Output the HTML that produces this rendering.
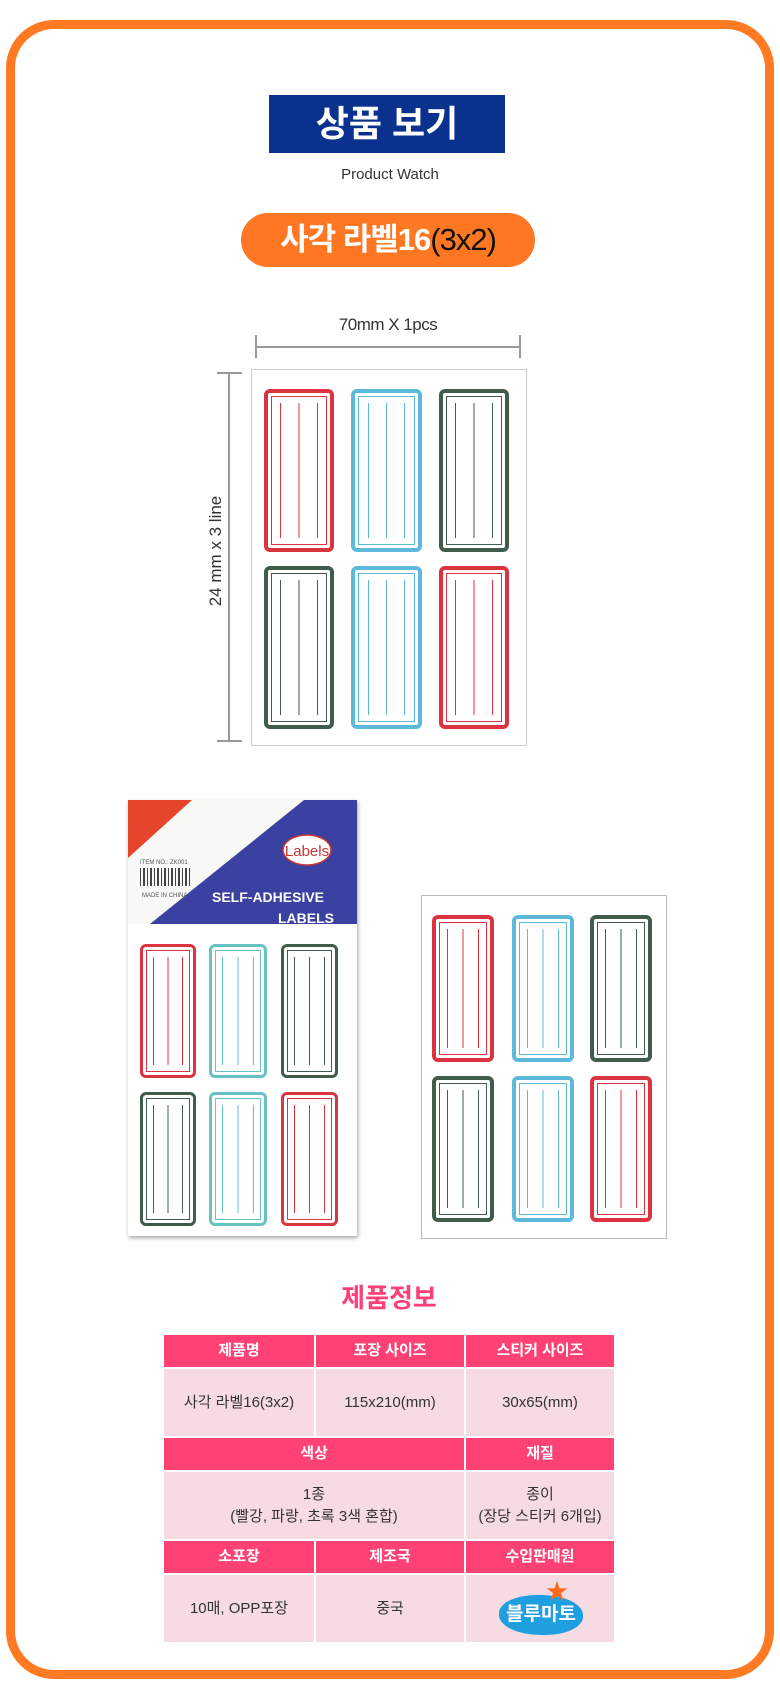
<!DOCTYPE html>
<html><head><meta charset="utf-8">
<style>
*{margin:0;padding:0;box-sizing:border-box}
body{width:780px;height:1704px;background:#fff;position:relative;overflow:hidden;font-family:"Liberation Sans","Noto Sans CJK KR",sans-serif}
.a{position:absolute}
.frame{left:6px;top:20px;width:768px;height:1659px;border:9px solid #ff7a23;border-radius:48px}
.st{position:absolute;border:4px solid var(--c);border-radius:6px;background:#fff}
.st::before{content:'';position:absolute;left:3px;right:3px;top:3px;bottom:3px;border:1px solid var(--c)}
.st::after{content:'';position:absolute;left:20%;right:20%;top:10px;bottom:10px;background:linear-gradient(90deg,var(--c) 0 1px,transparent 1px calc(50% - .5px),var(--c) calc(50% - .5px) calc(50% + .5px),transparent calc(50% + .5px) calc(100% - 1px),var(--c) calc(100% - 1px))}
.r{--c:#dc3341}.b{--c:#5cb9d9}.g{--c:#3f5d4a}.t{--c:#67c2c4}
.tbl{left:164px;top:1335px;width:450px;display:grid;grid-template-columns:150px 148px 148px;gap:2px;background:#fff}
.tbl div{display:flex;align-items:center;justify-content:center;text-align:center;font-size:15px;color:#333;line-height:1.45}
.tbl .h{background:#ff4173;color:#fff;font-weight:bold;height:32px;font-size:15px}
.tbl .d{background:#f7dbe3;height:67px}
</style></head><body>
<div class="a frame"></div>

<div class="a" style="left:269px;top:95px;width:236px;height:58px;background:#0b318f;color:#fff;font-size:36px;font-weight:bold;text-align:center;line-height:58px">상품 보기</div>
<div class="a" style="left:0;width:780px;top:166px;text-align:center;font-size:15px;color:#333">Product Watch</div>
<div class="a" style="left:241px;top:213px;width:294px;height:54px;background:#ff7722;border-radius:27px;text-align:center;line-height:54px;font-size:31px;color:#fff;font-weight:bold;letter-spacing:-1px">사각 라벨16<span style="color:#111;font-weight:normal">(3x2)</span></div>

<div class="a" style="left:0;width:776px;top:315px;text-align:center;font-size:17px;color:#333;letter-spacing:-0.5px">70mm X 1pcs</div>
<div class="a" style="left:255px;top:346px;width:266px;height:2px;background:#999"></div>
<div class="a" style="left:255px;top:335px;width:2px;height:23px;background:#999"></div>
<div class="a" style="left:519px;top:335px;width:2px;height:23px;background:#999"></div>
<div class="a" style="left:228px;top:372px;width:2px;height:370px;background:#999"></div>
<div class="a" style="left:217px;top:372px;width:25px;height:2px;background:#999"></div>
<div class="a" style="left:217px;top:740px;width:25px;height:2px;background:#999"></div>
<div class="a" style="width:150px;text-align:center;font-size:17px;color:#333;transform:rotate(-90deg);transform-origin:75px 11px;top:540px;left:142px">24 mm x 3 line</div>
<div class="a" style="left:251px;top:369px;width:276px;height:377px;border:1px solid #ccc"></div>
<div class="st r" style="left:264px;top:389px;width:70px;height:163px"></div>
<div class="st b" style="left:351px;top:389px;width:71px;height:163px"></div>
<div class="st g" style="left:439px;top:389px;width:70px;height:163px"></div>
<div class="st g" style="left:264px;top:566px;width:70px;height:163px"></div>
<div class="st b" style="left:351px;top:566px;width:71px;height:163px"></div>
<div class="st r" style="left:439px;top:566px;width:70px;height:163px"></div>

<div class="a" style="left:128px;top:800px;width:229px;height:436px;background:#fff;box-shadow:1px 2px 4px rgba(0,0,0,.35)">
<svg width="229" height="124" style="position:absolute;left:0;top:0">
<rect width="229" height="124" fill="#f8f8f6"/>
<polygon points="0,0 64,0 0,58" fill="#e5452b"/>
<polygon points="176,0 229,0 229,124 22,124" fill="#3a41a0"/>
<ellipse cx="179" cy="50" rx="24" ry="15" fill="#fff" stroke="#c33" stroke-width="1.5"/>
<text x="179" y="56" font-size="15" fill="#c33" text-anchor="middle" font-family="Liberation Sans">Labels</text>
<text x="12" y="64" font-size="6" fill="#555" font-family="Liberation Sans">ITEM NO.: ZK001</text>
<g fill="#444"><rect x="12" y="68" width="1" height="18"/><rect x="15" y="68" width="2" height="18"/><rect x="19" y="68" width="1" height="18"/><rect x="22" y="68" width="2" height="18"/><rect x="26" y="68" width="1" height="18"/><rect x="29" y="68" width="2" height="18"/><rect x="33" y="68" width="1" height="18"/><rect x="36" y="68" width="2" height="18"/><rect x="40" y="68" width="1" height="18"/><rect x="43" y="68" width="2" height="18"/><rect x="47" y="68" width="1" height="18"/><rect x="50" y="68" width="2" height="18"/><rect x="54" y="68" width="1" height="18"/><rect x="57" y="68" width="2" height="18"/><rect x="61" y="68" width="1" height="18"/></g>
<text x="14" y="97" font-size="6" fill="#555" font-family="Liberation Sans">MADE IN CHINA</text>
<text x="84" y="102" font-size="14" font-weight="bold" fill="#fff" font-family="Liberation Sans">SELF-ADHESIVE</text>
<text x="150" y="123" font-size="14" font-weight="bold" fill="#fff" font-family="Liberation Sans">LABELS</text>
</svg>
</div>
<div class="st r" style="left:140px;top:944px;width:56px;height:134px;border-width:3px"></div>
<div class="st t" style="left:209px;top:944px;width:58px;height:134px;border-width:3px"></div>
<div class="st g" style="left:281px;top:944px;width:57px;height:134px;border-width:3px"></div>
<div class="st g" style="left:140px;top:1092px;width:56px;height:134px;border-width:3px"></div>
<div class="st t" style="left:209px;top:1092px;width:58px;height:134px;border-width:3px"></div>
<div class="st r" style="left:281px;top:1092px;width:57px;height:134px;border-width:3px"></div>

<div class="a" style="left:421px;top:895px;width:246px;height:344px;border:1px solid #bbb"></div>
<div class="st r" style="left:432px;top:915px;width:62px;height:147px"></div>
<div class="st b" style="left:512px;top:915px;width:62px;height:147px"></div>
<div class="st g" style="left:590px;top:915px;width:62px;height:147px"></div>
<div class="st g" style="left:432px;top:1076px;width:62px;height:146px"></div>
<div class="st b" style="left:512px;top:1076px;width:62px;height:146px"></div>
<div class="st r" style="left:590px;top:1076px;width:62px;height:146px"></div>

<div class="a" style="left:0;width:778px;top:1278px;text-align:center;font-size:26px;font-weight:bold;color:#ff3f77">제품정보</div>

<div class="a tbl">
<div class="h">제품명</div><div class="h">포장 사이즈</div><div class="h">스티커 사이즈</div>
<div class="d">사각 라벨16(3x2)</div><div class="d">115x210(mm)</div><div class="d">30x65(mm)</div>
<div class="h" style="grid-column:span 2">색상</div><div class="h">재질</div>
<div class="d" style="grid-column:span 2">1종<br>(빨강, 파랑, 초록 3색 혼합)</div><div class="d">종이<br>(장당 스티커 6개입)</div>
<div class="h">소포장</div><div class="h">제조국</div><div class="h">수입판매원</div>
<div class="d">10매, OPP포장</div><div class="d">중국</div>
<div class="d" style="position:relative"><div style="position:absolute;left:33px;top:20px;width:84px;height:40px;background:#1f9ee0;border-radius:45% 50% 45% 50%;color:#fff;font-weight:bold;font-size:19px;display:flex;align-items:center;justify-content:center">블루마토</div><div style="position:absolute;left:80px;top:6px;color:#ff6a1a;font-size:22px;line-height:22px">★</div></div>
</div>
</body></html>
